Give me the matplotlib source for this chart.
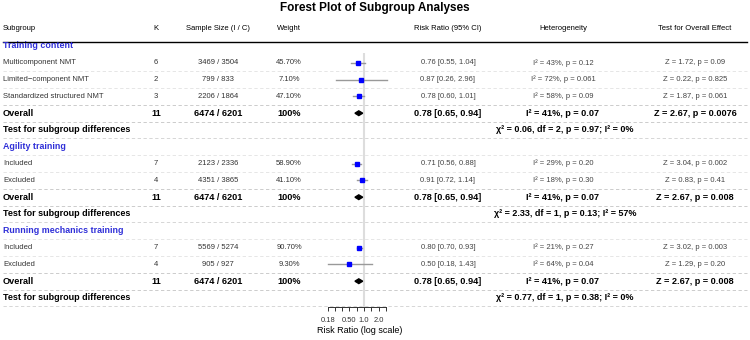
import numpy as np
import matplotlib
matplotlib.use("Agg")
from matplotlib import pyplot as plt

plt.rcParams['font.family'] = ['Liberation Sans', 'DejaVu Sans']

# subgroup data, one list per section
sections = ["Training content", "Agility training", "Running mechanics training"]
labels = [["Multicomponent NMT", "Limited\u2212component NMT", "Standardized structured NMT"],
          ["Included", "Excluded"],
          ["Included", "Excluded"]]
k = [[6, 2, 3], [7, 4], [7, 4]]
n_int = [[3469, 799, 2206], [2123, 4351], [5569, 905]]
n_ctl = [[3504, 833, 1864], [2336, 3865], [5274, 927]]
weights = [[45.70, 7.10, 47.10], [58.90, 41.10], [90.70, 9.30]]
rr = [[0.76, 0.87, 0.78], [0.71, 0.91], [0.80, 0.50]]
lo = [[0.55, 0.26, 0.60], [0.56, 0.72], [0.70, 0.18]]
hi = [[1.04, 2.96, 1.01], [0.88, 1.14], [0.93, 1.43]]
i2 = [[43, 72, 58], [29, 18], [21, 64]]
het_p = [["0.12", "0.061", "0.09"], ["0.20", "0.30"], ["0.27", "0.04"]]
z_val = [["1.72", "0.22", "1.87"], ["3.04", "0.83"], ["3.02", "1.29"]]
z_p = [["0.09", "0.825", "0.061"], ["0.002", "0.41"], ["0.003", "0.20"]]

# overall effect (same pooled analysis in each section)
overall_k = 11
overall_n = (6474, 6201)
overall_rr, overall_lo, overall_hi = 0.78, 0.65, 0.94
overall_i2, overall_het_p = 41, "0.07"
overall_z = "2.67"
overall_z_p = ["0.0076", "0.008", "0.008"]

# tests for subgroup differences
chi2 = ["0.06", "2.33", "0.77"]
chi_df = [2, 1, 1]
chi_p = ["0.97", "0.13", "0.38"]
chi_i2 = [0, 57, 0]

tick_vals = [0.18, 0.25, 0.35, 0.50, 0.71, 1.0, 1.41, 2.0, 2.83]
tick_labels = ["0.18", "", "", "0.50", "", "1.0", "", "2.0", ""]

# layout (pixels)
W, H = 750, 340
ROW0, DY = 46, 16.8
col_x = {"k": 156, "n": 218, "w": 289, "rr": 448, "het": 563, "z": 695}
blue = "#3030d8"
dash = (0, (4, 3))

def r_of(px):
    return (px - ROW0) / DY

fig = plt.figure(figsize=(W / 100, H / 100), dpi=100)
ax = fig.add_axes([0, 0, 1, 1])
ax.set_xlim(0, W)
ax.set_ylim(r_of(H), r_of(0))
ax.axis("off")

ax.text(W / 2, r_of(8), "Forest Plot of Subgroup Analyses", ha="center", va="center",
        fontsize=8.5, fontweight="bold")

hdr_y = r_of(28)
ax.text(3, hdr_y, "Subgroup", ha="left", va="center", fontsize=5.5)
for key, name in [("k", "K"), ("n", "Sample Size (I / C)"), ("w", "Weight"),
                  ("rr", "Risk Ratio (95% CI)"), ("het", "Heterogeneity"),
                  ("z", "Test for Overall Effect")]:
    ax.text(col_x[key], hdr_y, name, ha="center", va="center", fontsize=5.5)
ax.plot([3, W - 3], [r_of(41.5)] * 2, color="black", lw=1)

# forest panel
x0, x1 = 320, 400
y_top, y_bot = 38, 307
fax = fig.add_axes([x0 / W, (H - y_bot) / H, (x1 - x0) / W, (y_bot - y_top) / H])
fax.patch.set_alpha(0)
fax.set_xscale("log")
fax.set_xlim(np.exp((x0 - 364) / 21), np.exp((x1 - 364) / 21))
fax.set_ylim(r_of(y_bot), r_of(y_top))
for s in ["top", "left", "right"]:
    fax.spines[s].set_visible(False)
fax.spines["bottom"].set_bounds(tick_vals[0], tick_vals[-1])
fax.spines["bottom"].set_linewidth(0.7)
fax.spines["bottom"].set_color("#333333")
fax.set_yticks([])
fax.xaxis.set_minor_locator(matplotlib.ticker.NullLocator())
fax.set_xticks(tick_vals)
fax.set_xticklabels(tick_labels)
fax.tick_params(axis="x", length=3, width=0.7, labelsize=5.4, pad=4, colors="#333333")
fax.set_xlabel("Risk Ratio (log scale)", fontsize=6.5, labelpad=1.5)
fax.vlines(1.0, r_of(53), r_of(y_bot), color="#dddddd", lw=1.5, zorder=0)

row = 0
for s, name in enumerate(sections):
    ax.text(3, row, name, ha="left", va="center", fontsize=6.4, fontweight="bold", color=blue)
    if s > 0:
        ax.plot([3, W - 3], [row + 0.5] * 2, ls=dash, color="#e2e2e2", lw=0.6)
    row += 1
    for j in range(len(labels[s])):
        ax.text(3, row, labels[s][j], ha="left", va="center", fontsize=5.5, color="#333333")
        ax.text(col_x["k"], row, str(k[s][j]), ha="center", va="center", fontsize=5.5, color="#333333")
        ax.text(col_x["n"], row, f"{n_int[s][j]} / {n_ctl[s][j]}", ha="center", va="center",
                fontsize=5.5, color="#333333")
        ax.text(col_x["w"], row, f"{weights[s][j]:.2f}%", ha="center", va="center",
                fontsize=5.5, color="#333333")
        ax.text(col_x["rr"], row, f"{rr[s][j]:.2f} [{lo[s][j]:.2f}, {hi[s][j]:.2f}]",
                ha="center", va="center", fontsize=5.5, color="#444444")
        ax.text(col_x["het"], row, f"I\u00b2 = {i2[s][j]}%, p = {het_p[s][j]}",
                ha="center", va="center", fontsize=5.5, color="#444444")
        ax.text(col_x["z"], row, f"Z = {z_val[s][j]}, p = {z_p[s][j]}",
                ha="center", va="center", fontsize=5.5, color="#444444")
        fax.plot([lo[s][j], hi[s][j]], [row, row], color="#999999", lw=1, zorder=2)
        fax.plot(rr[s][j], row, marker="s", ms=3.4, color="blue", mec="blue", zorder=3)
        last = j == len(labels[s]) - 1
        ax.plot([3, W - 3], [row + 0.5] * 2, ls=dash,
                color="#c4c4c4" if last else "#e2e2e2", lw=0.6)
        row += 1

    # overall row
    bold = dict(ha="center", va="center", fontsize=6.6, fontweight="bold")
    ax.text(3, row, "Overall", ha="left", va="center", fontsize=6.6, fontweight="bold")
    ax.text(col_x["k"], row, str(overall_k), **bold)
    ax.text(col_x["n"], row, f"{overall_n[0]} / {overall_n[1]}", **bold)
    ax.text(col_x["w"], row, "100%", **bold)
    ax.text(col_x["rr"], row, f"{overall_rr:.2f} [{overall_lo:.2f}, {overall_hi:.2f}]", **bold)
    ax.text(col_x["het"], row, f"I\u00b2 = {overall_i2}%, p = {overall_het_p}", **bold)
    ax.text(col_x["z"], row, f"Z = {overall_z}, p = {overall_z_p[s]}", **bold)
    fax.fill([overall_lo, overall_rr, overall_hi, overall_rr],
             [row, row - 0.14, row, row + 0.14], color="black", zorder=3)
    ax.plot([3, W - 3], [row + 0.5] * 2, ls=dash, color="#c4c4c4", lw=0.6)
    row += 1

    # test for subgroup differences
    ax.text(3, row, "Test for subgroup differences", ha="left", va="center",
            fontsize=6.5, fontweight="bold")
    ax.text(565, row, f"\u03c7\u00b2 = {chi2[s]}, df = {chi_df[s]}, p = {chi_p[s]}; I\u00b2 = {chi_i2[s]}%",
            ha="center", va="center", fontsize=6.5, fontweight="bold")
    ax.plot([3, W - 3], [row + 0.5] * 2, ls=dash, color="#d0d0d0", lw=0.6)
    row += 1

fig.savefig("out.png", dpi=100)
